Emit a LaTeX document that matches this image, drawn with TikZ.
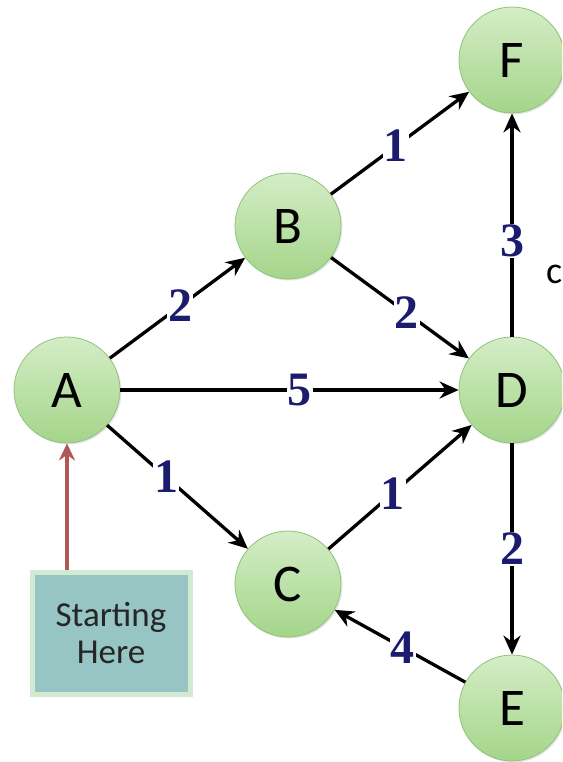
\documentclass[tikz,border=0pt]{standalone}
\usepackage{fontspec}
\setmainfont{Carlito}
\newfontfamily\numfont{Liberation Serif}
\usetikzlibrary{arrows.meta,shadows}

\definecolor{nodetop}{RGB}{212,237,198}
\definecolor{nodebot}{RGB}{164,213,138}
\definecolor{nodeedge}{RGB}{146,194,126}
\definecolor{labelblue}{RGB}{28,28,110}
\definecolor{startfill}{RGB}{150,197,195}
\definecolor{startedge}{RGB}{210,233,210}
\definecolor{startarrow}{RGB}{176,88,88}

\begin{document}
\begin{tikzpicture}[x=1pt,y=-1pt,
  vertex/.style={circle, minimum size=106pt, inner sep=0pt,
    top color=nodetop, bottom color=nodebot, draw=nodeedge, line width=0.8pt,
    drop shadow={shadow xshift=1.5pt, shadow yshift=-1.5pt, opacity=0.2},
    font=\fontsize{53}{53}\selectfont},
  edge/.style={line width=3.3pt, -{Stealth[length=19pt,width=17pt]}},
  weight/.style={fill=white, inner sep=1pt, text=labelblue,
    font=\numfont\bfseries\fontsize{48}{48}\selectfont},
]
\clip (0,0) rectangle (562,762);

% vertices
\node[vertex] (A) at (67,390) {A};
\node[vertex] (B) at (288,226) {B};
\node[vertex] (C) at (288,584) {C};
\node[vertex] (D) at (512,390) {D};
\node[vertex] (E) at (512,708) {E};
\node[vertex] (F) at (512,60) {F};

% weighted edges
\draw[edge] (A) -- node[weight, pos=0.52] {2} (B);
\draw[edge] (B) -- node[weight, pos=0.47] {1} (F);
\draw[edge] (B) -- node[weight, pos=0.55] {2} (D);
\draw[edge] (A) -- node[weight, pos=0.53] {5} (D);
\draw[edge] (A) -- node[weight, pos=0.42] {1} (C);
\draw[edge] (C) -- node[weight, pos=0.45] {1} (D);
\draw[edge] (D) -- node[weight, pos=0.43] {3} (F);
\draw[edge] (D) -- node[weight, pos=0.5] {2} (E);
\draw[edge] (E) -- node[weight, pos=0.48] {4} (C);

% start marker
\node[draw=startedge, line width=5pt, fill=startfill, minimum width=158pt,
  minimum height=122pt, align=center, text=black!85,
  font=\fontsize{35}{37}\selectfont] (start) at (111,633) {Starting\\Here};
\draw[startarrow, line width=3.3pt, -{Stealth[length=17pt,width=16pt]}]
  (A |- start.north) -- (A.south);

% partial caption at the right edge
\node[anchor=base west, inner sep=0pt, font=\fontsize{38}{38}\selectfont]
  (cap) at (546,283) {c};
\end{tikzpicture}
\end{document}
